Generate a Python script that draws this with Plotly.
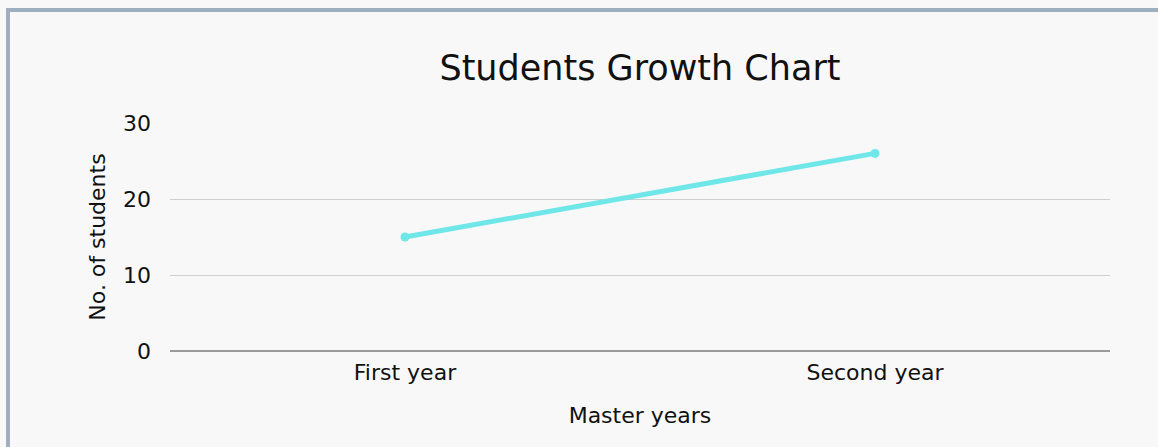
import plotly.graph_objects as go

categories = ["First year", "Second year"]
students = [15, 26]
y_ticks = [0, 10, 20, 30]

W, H = 1158, 447
ML, MR, MT, MB = 170, 48, 123, 96
PW, PH = W - ML - MR, H - MT - MB
FONT = "DejaVu Sans"
FS = 22

def px_x(p):
    return (p - ML) / PW

def px_y(p):
    return (H - MB - p) / PH

fig = go.Figure()
fig.add_trace(go.Scatter(
    x=categories, y=students, mode="lines+markers",
    line=dict(color="#6fe6e8", width=5),
    marker=dict(color="#6fe6e8", size=9),
    hoverinfo="x+y",
))

border = "#9eb0bf"
fig.update_layout(
    width=W, height=H,
    margin=dict(l=ML, r=MR, t=MT, b=MB),
    paper_bgcolor="#f8f8f8", plot_bgcolor="#f8f8f8",
    font=dict(family=FONT, color="#111111", size=FS),
    title=dict(text="Students Growth Chart", x=0.5 * PW / W + ML / W, xanchor="center",
               y=1 - 68 / H, yanchor="middle",
               font=dict(size=35, family=FONT, color="#111111")),
    showlegend=False,
    xaxis=dict(range=[-0.5, 1.5], showgrid=False, zeroline=False, showline=False,
               ticks="", tickfont=dict(size=FS), ticklabelstandoff=6,
               title=dict(text="Master years", font=dict(size=FS), standoff=23)),
    yaxis=dict(range=[0, 30], tickvals=y_ticks, showgrid=True, gridcolor="#cfcfcf",
               gridwidth=1, zeroline=True, zerolinecolor="#9a9a9a", zerolinewidth=1.5,
               showline=False, ticks="", tickfont=dict(size=FS), ticklabelstandoff=18,
               title=dict(text="No. of students", font=dict(size=FS), standoff=11)),
    shapes=[
        dict(type="rect", xref="paper", yref="paper",
             x0=px_x(6), x1=px_x(W + 2), y0=px_y(8), y1=px_y(12),
             fillcolor=border, line=dict(width=0), layer="above"),
        dict(type="rect", xref="paper", yref="paper",
             x0=px_x(6), x1=px_x(10), y0=px_y(8), y1=px_y(H + 2),
             fillcolor=border, line=dict(width=0), layer="above"),
    ],
)

fig.write_html(
    "out.html",
    config={"displayModeBar": False},
    post_script="document.body.style.margin='0';document.body.style.background='#f8f8f8';",
)
